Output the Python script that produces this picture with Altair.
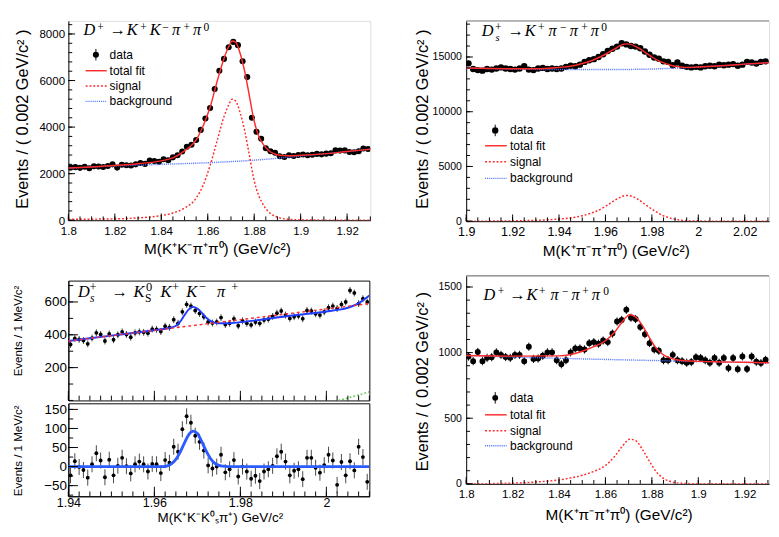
import altair as alt
import pandas as pd

SANS = "Liberation Sans"
SERIF = "Liberation Serif"
RED = "#ff2a2a"
BLUE = "#5070ff"
CBLUE = "#1f3cff"
GREEN = "#66cc55"
LEG_LABELS = ["data", "total fit", "signal", "background"]

# ---------------- Panel A : D+ -> K+K-pi+pi0 ----------------
A_bin_start, A_bin_step = 1.801, 0.002
A_counts = [2260, 2280, 2250, 2300, 2230, 2320, 2310, 2290, 2330, 2400,
            2260, 2380, 2360, 2350, 2400, 2460, 2420, 2560, 2540, 2510,
            2620, 2580, 2700, 2790, 2950, 3160, 3240, 3450, 3880, 4370,
            4820, 5640, 6420, 6930, 7430, 7660, 7520, 6830, 6150, 4400,
            3800, 3500, 3090, 2960, 2900, 2750, 2720, 2790, 2760, 2800,
            2820, 2790, 2810, 2850, 2830, 2860, 2880, 3000, 2990, 3000,
            2930, 2920, 2960, 3080, 3060]
A_err = 50
A_tot_x = [1.800, 1.810, 1.820, 1.830, 1.840, 1.845, 1.850, 1.855, 1.858, 1.861, 1.864, 1.867, 1.869,
           1.8705, 1.872, 1.874, 1.876, 1.878, 1.880, 1.882, 1.884, 1.886, 1.888, 1.891, 1.895, 1.900,
           1.910, 1.920, 1.930]
A_tot_y = [2240, 2290, 2350, 2430, 2550, 2680, 2980, 3450, 4050, 4850, 5950, 6950, 7450,
           7700, 7650, 7150, 6350, 5300, 4250, 3600, 3250, 3020, 2880, 2790, 2770, 2790,
           2850, 2950, 3050]
A_sig_x = [1.800, 1.820, 1.830, 1.840, 1.845, 1.850, 1.855, 1.858, 1.861, 1.864, 1.867, 1.869, 1.8705,
           1.872, 1.874, 1.876, 1.878, 1.880, 1.882, 1.884, 1.886, 1.888, 1.891, 1.895, 1.900, 1.910, 1.930]
A_sig_y = [40, 60, 100, 200, 310, 520, 950, 1500, 2350, 3400, 4450, 4950, 5200,
           5120, 4600, 3800, 2750, 1700, 1050, 650, 380, 220, 100, 40, 15, 5, 0]
A_bkg_x = [1.80, 1.82, 1.84, 1.86, 1.88, 1.90, 1.92, 1.93]
A_bkg_y = [2237, 2333, 2400, 2470, 2580, 2758, 2950, 3050]
A_xticks = [1.8, 1.82, 1.84, 1.86, 1.88, 1.9, 1.92]
A_yticks = [0, 2000, 4000, 6000, 8000]

# ---------------- Panel B : Ds+ -> K+pi-pi+pi0 ----------------
B_bin_start, B_bin_step = 1.901, 0.002
B_counts = [14420, 13900, 13800, 13750, 13900, 13850, 13950, 14050, 13950, 13900,
            13850, 13950, 14150, 13850, 13800, 13950, 14000, 13900, 13950, 13900,
            13950, 14100, 14200, 14150, 14300, 14550, 14700, 14800, 15000, 15250,
            15550, 15750, 15950, 16250, 16150, 16000, 15950, 15800, 15500, 15200,
            14950, 14850, 14600, 14550, 14250, 14500, 14200, 14100, 14050, 14100,
            14050, 14150, 14200, 14150, 14300, 14250, 14300, 14350, 14200, 14300,
            14550, 14500, 14400, 14550, 14600]
B_err = 120
B_tot_x = [1.900, 1.910, 1.920, 1.930, 1.940, 1.945, 1.950, 1.955, 1.960, 1.964, 1.967, 1.969, 1.971,
           1.974, 1.977, 1.980, 1.984, 1.988, 1.992, 1.996, 2.000, 2.010, 2.020, 2.028, 2.031]
B_tot_y = [14000, 13950, 13930, 13920, 14050, 14150, 14400, 14750, 15250, 15750, 16100, 16200, 16150,
           15850, 15450, 15000, 14550, 14250, 14100, 14050, 14080, 14200, 14350, 14450, 14490]
B_sig_x = [1.900, 1.920, 1.930, 1.940, 1.945, 1.950, 1.955, 1.960, 1.964, 1.967, 1.969, 1.971, 1.974,
           1.977, 1.980, 1.984, 1.988, 1.992, 1.996, 2.000, 2.031]
B_sig_y = [0, 30, 80, 200, 300, 500, 820, 1350, 1900, 2250, 2350, 2300, 2000,
           1550, 1100, 600, 280, 110, 40, 10, 0]
B_bkg_x = [1.90, 1.92, 1.94, 1.96, 1.98, 1.99, 2.00, 2.01, 2.02, 2.031]
B_bkg_y = [14000, 13900, 13850, 13850, 13900, 13980, 14080, 14200, 14330, 14470]
B_xticks = [1.9, 1.92, 1.94, 1.96, 1.98, 2.0, 2.02]
B_yticks = [0, 5000, 10000, 15000]

# ---------------- Panel C : Ds+ -> KS K+ K- pi+ (fit + subtracted) ----------------
C_bin_start, C_bin_step = 1.9405, 0.001
C_up = [341, 378, 372, 365, 345, 380, 412, 402, 362, 405,
        370, 400, 418, 402, 385, 412, 418, 415, 410, 435,
        433, 420, 452, 445, 492, 470, 540, 585, 575, 548,
        530, 510, 478, 472, 478, 505, 462, 470, 497, 455,
        485, 470, 460, 478, 470, 490, 495, 512, 532, 545,
        520, 500, 510, 515, 498, 548, 545, 528, 520, 540,
        565, 575, 560, 585, 600, 670, 655, 590, 620, 600]
C_up_err = 21
C_low = [-23, 14, -1, -9, -29, 6, 35, 16, -28, 18,
         -23, 2, 23, 1, -18, 6, 13, 6, -13, 7,
         6, -17, 17, 10, 52, 39, 98, 132, 115, 81,
         65, 42, 3, -5, 0, 31, -15, -7, 17, -26,
         0, -13, -32, -24, -38, -13, -7, 2, 27, 39,
         13, -23, -11, -7, -33, 23, 23, -3, -16, 4,
         31, 16, -48, 12, -23, 14, -10, 52, 25, -40]
C_low_err = 21
C_tot_x = [1.940, 1.950, 1.960, 1.962, 1.964, 1.965, 1.966, 1.967, 1.968, 1.969, 1.970, 1.971, 1.972,
           1.973, 1.974, 1.975, 1.977, 1.980, 1.990, 2.000, 2.003, 2.005, 2.007, 2.010]
C_tot_y = [362, 395, 428, 435, 445, 455, 480, 520, 555, 570, 560, 535, 505,
           485, 474, 470, 470, 477, 510, 542, 553, 565, 585, 640]
C_bkg_x = [1.94, 2.01]
C_bkg_y = [362, 590]
C_oth_x = [2.0028, 2.005, 2.0075, 2.010]
C_oth_y = [0, 15, 33, 53]
C_sub_x = [1.940, 1.962, 1.963, 1.964, 1.965, 1.966, 1.967, 1.968, 1.969, 1.970, 1.971, 1.972,
           1.973, 1.974, 1.975, 1.976, 1.977, 2.010]
C_sub_y = [0, 0, 2, 8, 19, 38, 62, 84, 93, 87, 66, 42, 22, 9, 3, 1, 0, 0]
C_xticks = [1.94, 1.96, 1.98, 2.0]
C_up_yticks = [200, 400, 600]
C_low_yticks = [-50, 0, 50, 100, 150]

# ---------------- Panel D : D+ -> K+pi-pi+pi0 ----------------
D_bin_start, D_bin_step = 1.801, 0.002
D_counts = [970, 935, 1005, 935, 960, 965, 1002, 983, 966, 960,
            983, 983, 935, 1045, 952, 955, 976, 1002, 1002, 942,
            911, 942, 1002, 1031, 1031, 1024, 1072, 1080, 1068, 1092,
            1080, 1145, 1237, 1249, 1326, 1266, 1256, 1196, 1140, 1072,
            1024, 1014, 942, 942, 983, 942, 935, 923, 928, 964,
            959, 942, 923, 959, 923, 959, 882, 959, 874, 971,
            875, 970, 930, 920, 945]
D_err = 31
D_tot_x = [1.800, 1.820, 1.840, 1.845, 1.850, 1.855, 1.860, 1.864, 1.867, 1.8705, 1.873, 1.876, 1.879,
           1.882, 1.885, 1.888, 1.892, 1.900, 1.910, 1.920, 1.931]
D_tot_y = [978, 973, 975, 985, 1010, 1045, 1090, 1157, 1230, 1288, 1272, 1203, 1112,
           1030, 982, 958, 942, 933, 929, 926, 922]
D_sig_x = [1.800, 1.820, 1.830, 1.840, 1.845, 1.850, 1.855, 1.860, 1.864, 1.867, 1.8705, 1.873, 1.876,
           1.879, 1.882, 1.885, 1.888, 1.892, 1.900, 1.931]
D_sig_y = [0, 5, 14, 30, 45, 65, 95, 140, 210, 280, 340, 330, 260, 170, 90, 42, 18, 5, 1, 0]
D_bkg_x = [1.80, 1.85, 1.88, 1.90, 1.931]
D_bkg_y = [978, 952, 940, 932, 922]
D_xticks = [1.8, 1.82, 1.84, 1.86, 1.88, 1.9, 1.92]
D_yticks = [0, 500, 1000, 1500]

# decay-channel labels: (glyph, kind); kinds: m = main italic, a = arrow, p = superscript, b/B = subscript
A_label = [("D", "m"), ("+", "p"), ("→", "a"), ("K", "m"), ("+", "p"), ("K", "m"), ("−", "p"),
           ("π", "m"), ("+", "p"), ("π", "m"), ("0", "p")]
B_label = [("D", "m"), ("+", "p"), ("s", "b"), ("→", "a"), ("K", "m"), ("+", "p"), ("π", "m"), ("−", "p"),
           ("π", "m"), ("+", "p"), ("π", "m"), ("0", "p")]
C_label = [("D", "m"), ("+", "p"), ("s", "b"), ("→", "a"), ("K", "m"), ("0", "p"), ("S", "B"), ("K", "m"),
           ("+", "p"), ("K", "m"), ("−", "p"), ("π", "m"), ("+", "p")]
D_label = [("D", "m"), ("+", "p"), ("→", "a"), ("K", "m"), ("+", "p"), ("π", "m"), ("−", "p"),
           ("π", "m"), ("+", "p"), ("π", "m"), ("0", "p")]

ONE = pd.DataFrame({"k": [0]})


def steps(a, b, s):
    n = int(round((b - a) / s))
    return [round(a + s * i, 6) for i in range(n + 1)]


def centers(start, step, n):
    return [round(start + step * i, 5) for i in range(n)]


def xaxis(values, lsize, lpad, title, tsize, tx, ty):
    return alt.Axis(values=values, format=".3~f", labelFont=SANS, labelFontSize=lsize, labelPadding=lpad,
                    labelColor="black", ticks=False, domain=True, domainColor="black",
                    grid=False, labelFlush=False, labelOverlap=False,
                    title=title, titleFont=SANS, titleFontSize=tsize, titleFontWeight="normal",
                    titleColor="black", titleX=tx, titleY=ty, titleAlign="center", titleBaseline="top")


def yaxis(values, lsize, lpad, title, tsize, tx, ty):
    return alt.Axis(values=values, format="d", labelFont=SANS, labelFontSize=lsize, labelPadding=lpad,
                    labelColor="black", ticks=False, domain=True, domainColor="black",
                    grid=False, labelFlush=False, labelOverlap=False,
                    title=title, titleFont=SANS, titleFontSize=tsize, titleFontWeight="normal",
                    titleColor="black", titleX=tx, titleY=ty, titleAngle=270, titleAlign="center",
                    titleBaseline="top")


class Panel:
    def __init__(self, xdom, ydom, xax, yax, w, h):
        self.xs = alt.Scale(domain=xdom, nice=False, zero=False)
        self.ys = alt.Scale(domain=ydom, nice=False, zero=False)
        self.xa, self.ya, self.w, self.h = xax, yax, w, h
        self.layers = []

    def X(self, f):
        return alt.X(f, scale=self.xs, axis=self.xa)

    def Y(self, f):
        return alt.Y(f, scale=self.ys, axis=self.ya)

    def data(self, xs, ys, err, size, barcolor="black"):
        df = pd.DataFrame({"x": xs, "y": ys})
        df["lo"] = df["y"] - err
        df["hi"] = df["y"] + err
        self.layers.append(alt.Chart(df).mark_rule(color=barcolor, strokeWidth=1, clip=True).encode(
            x=self.X("x:Q"), y=self.Y("lo:Q"), y2="hi:Q"))
        self.layers.append(alt.Chart(df).mark_circle(color="black", opacity=1, size=size, clip=True).encode(
            x=self.X("x:Q"), y=self.Y("y:Q")))

    def curve(self, xs, ys, color, width, dash=None):
        kw = dict(color=color, strokeWidth=width, interpolate="monotone", clip=True)
        if dash:
            kw["strokeDash"] = dash
        self.layers.append(alt.Chart(pd.DataFrame({"x": xs, "y": ys})).mark_line(**kw).encode(
            x=self.X("x:Q"), y=self.Y("y:Q")))

    def ticks(self, xmaj=None, xmin=None, ymaj=None, ymin=None, L=7, l=4):
        for vals, ln in ((xmaj, L), (xmin, l)):
            if vals:
                self.layers.append(alt.Chart(pd.DataFrame({"x": vals})).mark_rule(
                    color="black", strokeWidth=1).encode(
                    x=self.X("x:Q"), y=alt.value(self.h), y2=alt.value(self.h - ln)))
        for vals, ln in ((ymaj, L), (ymin, l)):
            if vals:
                self.layers.append(alt.Chart(pd.DataFrame({"y": vals})).mark_rule(
                    color="black", strokeWidth=1).encode(
                    y=self.Y("y:Q"), x=alt.value(0), x2=alt.value(ln)))

    def text(self, txt, x, y, size, font=SERIF, style="italic", align="left", baseline="alphabetic"):
        self.layers.append(alt.Chart(ONE).mark_text(
            text=txt, font=font, fontSize=size, fontStyle=style, align=align,
            baseline=baseline, color="black").encode(x=alt.value(x), y=alt.value(y)))

    def label(self, pieces, xs, base, size=17, sup=12, rise=4.5, drop=5.5):
        for (g, kind), x in zip(pieces, xs):
            if kind == "m":
                self.text(g, x, base, size)
            elif kind == "a":
                self.text(g, x, base, size, style="normal")
            elif kind == "p":
                self.text(g, x, base - rise, sup, style="normal")
            elif kind == "b":
                self.text(g, x, base + drop, sup - 1)
            else:
                self.text(g, x, base + drop, sup - 1, style="normal")

    def topline(self):
        self.layers.append(alt.Chart(ONE).mark_rule(color="#999999", strokeWidth=1.5).encode(
            x=alt.value(0), x2=alt.value(self.w), y=alt.value(0)))

    def legend(self, xm, xl0, xl1, xt, ys, fsize, msize, elen):
        self.layers += [
            alt.Chart(ONE).mark_rule(color="black").encode(
                x=alt.value(xm), y=alt.value(ys[0] - elen), y2=alt.value(ys[0] + elen)),
            alt.Chart(ONE).mark_circle(color="black", opacity=1, size=msize).encode(
                x=alt.value(xm), y=alt.value(ys[0])),
            alt.Chart(ONE).mark_rule(color=RED, strokeWidth=1.5).encode(
                x=alt.value(xl0), x2=alt.value(xl1), y=alt.value(ys[1])),
            alt.Chart(ONE).mark_rule(color=RED, strokeWidth=1.5, strokeDash=[2, 2]).encode(
                x=alt.value(xl0), x2=alt.value(xl1), y=alt.value(ys[2])),
            alt.Chart(ONE).mark_rule(color=BLUE, strokeWidth=1.5, strokeDash=[1, 1]).encode(
                x=alt.value(xl0), x2=alt.value(xl1), y=alt.value(ys[3])),
        ]
        for lab, y in zip(LEG_LABELS, ys):
            self.text(lab, xt, y, fsize, font=SANS, style="normal", baseline="middle")

    def chart(self, **props):
        return alt.layer(*self.layers).properties(width=self.w, height=self.h, **props)


YT = "Events / ( 0.002 GeV/c² )"

# ---------- A ----------
pA = Panel([1.8, 1.93], [0, 8563],
           xaxis(A_xticks, 12, 6, "M(K⁺K⁻π⁺π⁰) (GeV/c²)", 16, 155, 22),
           yaxis(A_yticks, 12, 4, YT, 17, -56, 102), 315, 208)
pA.data(centers(A_bin_start, A_bin_step, len(A_counts)), A_counts, A_err, 40)
pA.curve(A_bkg_x, A_bkg_y, BLUE, 1.5, [1, 1])
pA.curve(A_sig_x, A_sig_y, RED, 1.5, [2, 2])
pA.curve(A_tot_x, A_tot_y, RED, 1.5)
pA.ticks(A_xticks, steps(1.8, 1.93, 0.005), A_yticks, steps(0, 8400, 400))
pA.label(A_label, [15.7, 30, 43, 61, 75, 85, 98, 108, 120, 130, 141], 14.7, rise=4)
pA.legend(28.7, 18, 40, 43, [35.3, 52, 68, 84], 12.5, 40, 6)
chartA = pA.chart()

# ---------- B ----------
pB = Panel([1.9, 2.0305], [0, 18300],
           xaxis(B_xticks, 13, 4.5, "M(K⁺π⁻π⁺π⁰) (GeV/c²)", 16, 156, 23),
           yaxis(B_yticks, 11, 5, YT, 17, -53, 102), 316, 209)
pB.data(centers(B_bin_start, B_bin_step, len(B_counts)), B_counts, B_err, 44)
pB.curve(B_bkg_x, B_bkg_y, BLUE, 1.5, [1, 1])
pB.curve(B_sig_x, B_sig_y, RED, 1.5, [2, 2])
pB.curve(B_tot_x, B_tot_y, RED, 1.5)
pB.ticks(B_xticks, steps(1.9, 2.03, 0.005), B_yticks, steps(0, 18000, 1000))
pB.topline()
pB.label(B_label, [16.3, 30, 30.5, 43, 61, 75, 86, 98, 108, 120, 130, 141], 15.3, rise=5)
pB.legend(30.3, 19.7, 42.3, 45.7, [114.3, 130.3, 147, 164.3], 12.5, 44, 6)
chartB = pB.chart()

# ---------- C ----------
C_x = centers(C_bin_start, C_bin_step, len(C_up))
pC1 = Panel([1.94, 2.01], [0, 730], None,
            yaxis(C_up_yticks, 14, 2, "Events / 1 MeV/c²", 12, -58, 52), 314, 125)
pC1.data(C_x, C_up, C_up_err, 16, "#444444")
pC1.curve(C_tot_x, C_tot_y, CBLUE, 2)
pC1.curve(C_bkg_x, C_bkg_y, RED, 1.5, [3, 3])
pC1.curve(C_oth_x, C_oth_y, GREEN, 1.5, [2, 2])
pC1.ticks(C_xticks, steps(1.94, 2.01, 0.0025), C_up_yticks, steps(0, 700, 100), L=10, l=5)
pC1.label(C_label, [10, 22, 22.5, 45, 68, 81, 80, 96, 108, 123, 136, 155, 170], 17, size=17, sup=13,
          rise=6.5, drop=5)
chartC1 = pC1.chart(view=alt.ViewBackground(stroke="black", strokeWidth=1))

pC2 = Panel([1.94, 2.01], [-78, 166],
            xaxis(C_xticks, 13, 1, "M(K⁺K⁻K⁰ₛπ⁺) GeV/c²", 14, 158, 15),
            yaxis(C_low_yticks, 14, 2, "Events / 1 MeV/c²", 12, -58, 49), 314, 97)
pC2.data(C_x, C_low, C_low_err, 16, "#444444")
pC2.curve(C_sub_x, C_sub_y, "#2c5cff", 3)
pC2.ticks(C_xticks, steps(1.94, 2.01, 0.0025), C_low_yticks, steps(-75, 150, 25), L=10, l=5)
chartC2 = pC2.chart(view=alt.ViewBackground(stroke="black", strokeWidth=1))

# ---------- D ----------
pD = Panel([1.8, 1.9305], [0, 1585],
           xaxis(D_xticks, 12, 5, "M(K⁺π⁻π⁺π⁰) (GeV/c²)", 16, 159, 24),
           yaxis(D_yticks, 11, 5, YT, 17, -53, 110), 316, 217)
pD.data(centers(D_bin_start, D_bin_step, len(D_counts)), D_counts, D_err, 38)
pD.curve(D_bkg_x, D_bkg_y, BLUE, 1.5, [1, 1])
pD.curve(D_sig_x, D_sig_y, RED, 1.5, [2, 2])
pD.curve(D_tot_x, D_tot_y, RED, 1.5)
pD.ticks(D_xticks, steps(1.8, 1.93, 0.005), D_yticks, steps(0, 1500, 100))
pD.topline()
pD.label(D_label, [18, 33, 45, 63, 76, 88, 100, 110, 121, 131, 143], 25, rise=4.5)
pD.legend(30.3, 19.7, 42.3, 45.7, [127.3, 145, 161.7, 177.3], 12.5, 38, 6)
chartD = pD.chart()

left = alt.vconcat(chartA, alt.vconcat(chartC1, chartC2, spacing=0), spacing=23)
right = alt.vconcat(chartB, chartD, spacing=15)
chart = alt.hconcat(left, right, spacing=44).properties(
    padding={"left": 3, "top": 0, "right": 0, "bottom": 0}
).configure_view(stroke=None).configure(background="white")

chart.save("out.html", embed_options={"renderer": "svg", "actions": False})
